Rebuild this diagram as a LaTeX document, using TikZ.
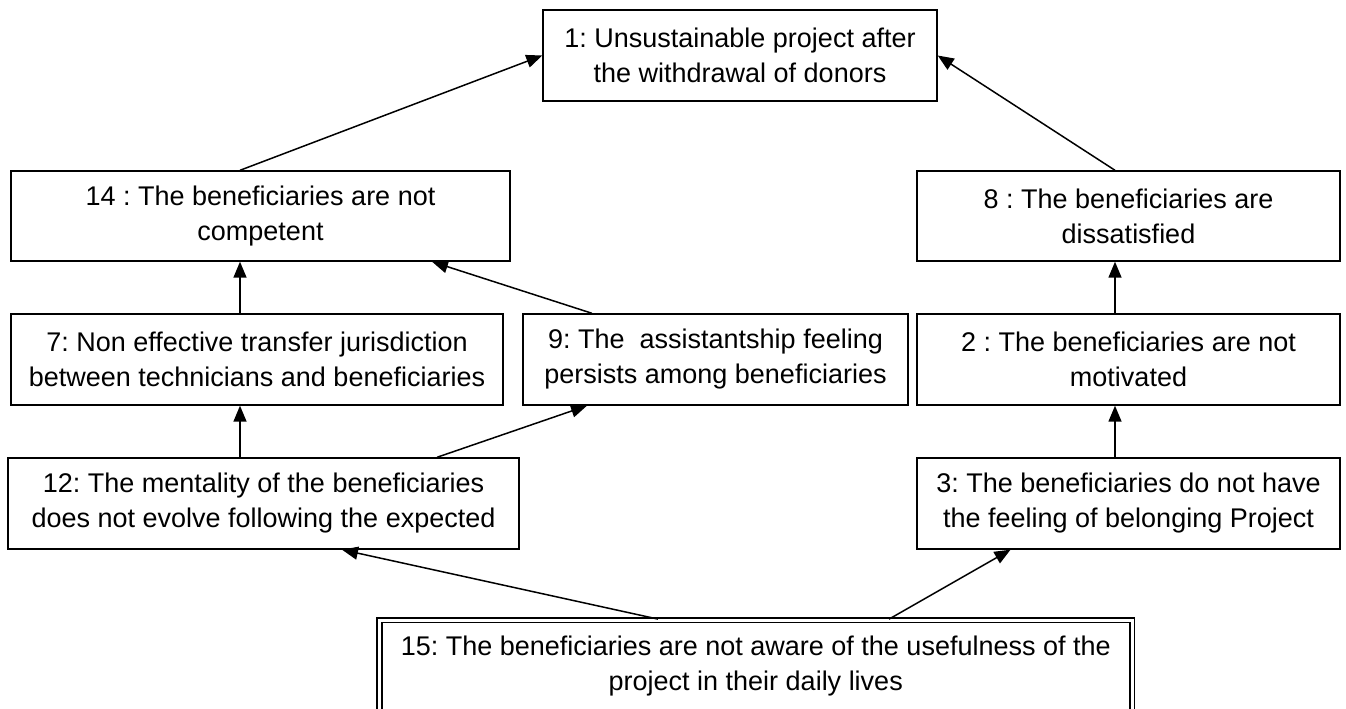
\documentclass[tikz,border=0pt]{standalone}
\usepackage{fontspec}
\setmainfont{Liberation Sans}
\usetikzlibrary{arrows.meta}
\newcommand{\bodyfont}{\fontsize{27}{35}\selectfont\frenchspacing}
\tikzset{
  box/.style={draw=black, line width=1.4pt, align=center, inner sep=0pt, font=\bodyfont, text=black},
  dbox/.style={draw=black, double=white, double distance=3pt, line width=1.8pt, align=center, inner sep=0pt, font=\bodyfont, text=black},
  arr/.style={line width=1.5pt, draw=black, -{Triangle[length=16pt,width=13pt]}}
}
\begin{document}
\begin{tikzpicture}[x=1pt,y=-1pt]
\path[fill=white, use as bounding box] (0,0) rectangle (1346,709);
% boxes
\node[box, minimum width=394pt, minimum height=91pt] (n1) at (740,55.5) {1: Unsustainable project after\\the withdrawal of donors};
\node[box, minimum width=499pt, minimum height=90pt] (n14) at (260.5,216) {14 : The beneficiaries are not\\competent};
\node[box, minimum width=423pt, minimum height=90pt] (n8) at (1128.5,216) {8 : The beneficiaries are\\dissatisfied};
\node[box, minimum width=492pt, minimum height=91pt] (n7) at (257,359.5) {7: Non effective transfer jurisdiction\\between technicians and beneficiaries};
\node[box, minimum width=385pt, minimum height=91pt] (n9) at (715.5,359.5) {9: The\ \ assistantship feeling\\persists among beneficiaries};
\node[box, minimum width=423pt, minimum height=91pt] (n2) at (1128.5,359.5) {2 : The beneficiaries are not\\motivated};
\node[box, minimum width=511pt, minimum height=91pt] (n12) at (263.5,503.5) {12: The mentality of the beneficiaries\\does not evolve following the expected};
\node[box, minimum width=423pt, minimum height=91pt] (n3) at (1128.5,503.5) {3: The beneficiaries do not have\\the feeling of belonging Project};
\node[dbox, minimum width=752.5pt, minimum height=92pt] (n15) at (755.75,666) {15: The beneficiaries are not aware of the usefulness of the\\project in their daily lives};
% guide coordinates
\coordinate (cl) at (240,0);
\coordinate (cr) at (1115,0);
% connectors
\draw[arr] (n14.north -| cl) -- (n1.west);
\draw[arr] (n8.north -| cr) -- (n1.east);
\draw[arr] (n7.north -| cl) -- (n14.south -| cl);
\draw[arr] (n12.north -| cl) -- (n7.south -| cl);
\draw[arr] ([xshift=-123.5pt]n9.north) -- ([xshift=171.5pt]n14.south);
\draw[arr] ([xshift=173.5pt]n12.north) -- ([xshift=-128.5pt]n9.south);
\draw[arr] (n2.north -| cr) -- (n8.south -| cr);
\draw[arr] (n3.north -| cr) -- (n2.south -| cr);
\draw[arr] ([xshift=-97.75pt]n15.north) -- ([xshift=78.5pt]n12.south);
\draw[arr] ([xshift=133.25pt]n15.north) -- ([xshift=-118pt]n3.south);
\end{tikzpicture}
\end{document}
